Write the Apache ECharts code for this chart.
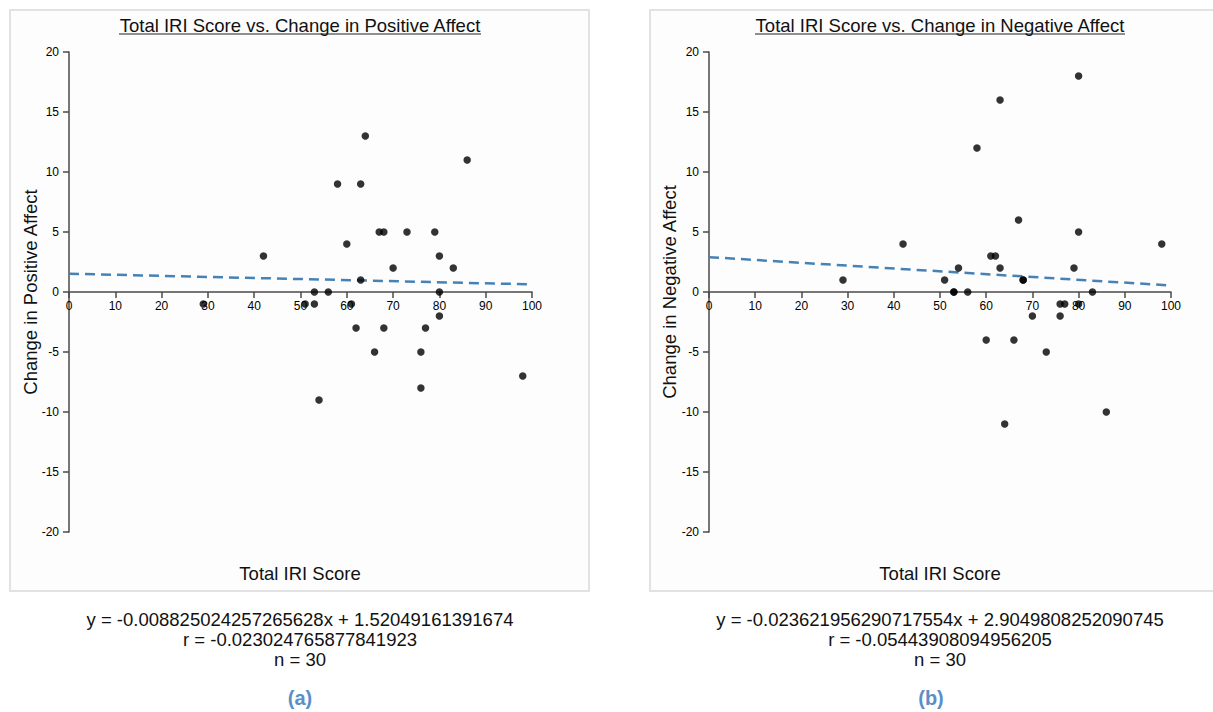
<!DOCTYPE html>
<html>
<head>
<meta charset="utf-8">
<script src="https://cdn.jsdelivr.net/npm/echarts@6/dist/echarts.min.js"></script>
<style>
  html, body { margin: 0; padding: 0; background: #ffffff; }
  #chart { width: 1213px; height: 712px; }
</style>
</head>
<body>
<div id="chart"></div>
<script>
// ---- data ----
const iriPositive = [64, 86, 58, 63, 67, 68, 73, 79, 60, 42, 80, 70, 83, 63, 53, 56, 80, 29, 51, 53, 61, 80, 62, 68, 77, 66, 76, 98, 76, 54];
const changePositive = [13, 11, 9, 9, 5, 5, 5, 5, 4, 3, 3, 2, 2, 1, 0, 0, 0, -1, -1, -1, -1, -2, -3, -3, -3, -5, -5, -7, -8, -9];

const iriNegative = [80, 63, 58, 67, 80, 42, 98, 61, 62, 54, 63, 79, 29, 51, 68, 68, 53, 53, 56, 83, 76, 77, 80, 70, 76, 60, 66, 73, 86, 64];
const changeNegative = [18, 16, 12, 6, 5, 4, 4, 3, 3, 2, 2, 2, 1, 1, 1, 1, 0, 0, 0, 0, -1, -1, -1, -2, -2, -4, -4, -5, -10, -11];

// regression line endpoints (x = 0 and x = 100)
const trendPositive = [[0, 1.5205], [100, 0.6380]];
const trendNegative = [[0, 2.9050], [100, 0.5428]];

const xTicks = [0, 10, 20, 30, 40, 50, 60, 70, 80, 90, 100];
const yTicks = [-20, -15, -10, -5, 0, 5, 10, 15, 20];

const titles = ['Total IRI Score vs. Change in Positive Affect', 'Total IRI Score vs. Change in Negative Affect'];
const yNames = ['Change in Positive Affect', 'Change in Negative Affect'];
const xName = 'Total IRI Score';
const equations = [
  ['y = -0.008825024257265628x + 1.52049161391674', 'r = -0.023024765877841923', 'n = 30'],
  ['y = -0.023621956290717554x + 2.9049808252090745', 'r = -0.05443908094956205', 'n = 30']
];
const captions = ['(a)', '(b)'];

// ---- chart ----
const FONT = '"Liberation Sans", Arial, Helvetica, sans-serif';
const AXIS_COLOR = '#4a4a4a';
const chart = echarts.init(document.getElementById('chart'), null, { renderer: 'svg' });

const pair = (xs, ys) => xs.map((x, i) => [x, ys[i]]);

function xAxisCfg(gridIndex) {
  return {
    type: 'value', gridIndex, position: 'bottom', offset: -240,
    min: xTicks[0], max: xTicks[xTicks.length - 1], interval: xTicks[1] - xTicks[0],
    axisLine: { show: true, onZero: false, lineStyle: { color: AXIS_COLOR, width: 1.5 } },
    axisTick: { show: true, length: 6, lineStyle: { color: AXIS_COLOR, width: 1.5 } },
    axisLabel: { color: '#000', fontSize: 12, fontFamily: FONT, margin: 8 },
    splitLine: { show: false }
  };
}
function yAxisCfg(gridIndex) {
  return {
    type: 'value', gridIndex,
    min: yTicks[0], max: yTicks[yTicks.length - 1], interval: yTicks[1] - yTicks[0],
    axisLine: { show: true, onZero: false, lineStyle: { color: AXIS_COLOR, width: 1.5 } },
    axisTick: { show: true, length: 6, lineStyle: { color: AXIS_COLOR, width: 1.5 } },
    axisLabel: { color: '#000', fontSize: 12, fontFamily: FONT, margin: 10 },
    splitLine: { show: false }
  };
}

const panelCenters = [300, 940];
const graphics = [];
// panel boxes
graphics.push({ type: 'rect', z: -10, shape: { x: 10, y: 10, width: 579, height: 581 },
  style: { fill: '#fdfdfd', stroke: '#e2e2e2', lineWidth: 2 } });
graphics.push({ type: 'rect', z: -10, shape: { x: 650, y: 10, width: 600, height: 581 },
  style: { fill: '#fdfdfd', stroke: '#e2e2e2', lineWidth: 2 } });

const underline = [[119, 481], [755, 1125]];
const yNameX = [30, 669];
const F = '18.5px ' + FONT;
for (let p = 0; p < 2; p++) {
  const cx = panelCenters[p];
  graphics.push({ type: 'text', x: cx, y: 25, z: 10,
    style: { text: titles[p], fill: '#111', font: F, textAlign: 'center', textVerticalAlign: 'middle' } });
  graphics.push({ type: 'line', z: 10, shape: { x1: underline[p][0], y1: 34, x2: underline[p][1], y2: 34 },
    style: { stroke: '#222', lineWidth: 1.2 } });
  graphics.push({ type: 'text', x: yNameX[p], y: 292, rotation: Math.PI / 2, z: 10,
    style: { text: yNames[p], fill: '#111', font: F, textAlign: 'center', textVerticalAlign: 'middle' } });
  graphics.push({ type: 'text', x: cx, y: 573, z: 10,
    style: { text: xName, fill: '#111', font: F, textAlign: 'center', textVerticalAlign: 'middle' } });
  equations[p].forEach((line, i) => {
    graphics.push({ type: 'text', x: cx, y: 619 + i * 20, z: 10,
      style: { text: line, fill: '#111', font: F, textAlign: 'center', textVerticalAlign: 'middle' } });
  });
  graphics.push({ type: 'text', x: p === 0 ? 300 : 931, y: 698, z: 10,
    style: { text: captions[p], fill: '#5b8ec8', font: 'bold 20px ' + FONT, textAlign: 'center', textVerticalAlign: 'middle' } });
}

const trendStyle = { color: '#4682b4', width: 2.5, type: [10, 6] };

chart.setOption({
  animation: false,
  backgroundColor: '#ffffff',
  grid: [
    { left: 69, top: 52, width: 463, height: 480 },
    { left: 709, top: 52, width: 462, height: 480 }
  ],
  xAxis: [xAxisCfg(0), xAxisCfg(1)],
  yAxis: [yAxisCfg(0), yAxisCfg(1)],
  graphic: graphics,
  series: [
    { type: 'line', xAxisIndex: 0, yAxisIndex: 0, data: trendPositive, symbol: 'none', lineStyle: trendStyle, z: 3, silent: true },
    { type: 'scatter', xAxisIndex: 0, yAxisIndex: 0, data: pair(iriPositive, changePositive), symbolSize: 7.5, itemStyle: { color: '#000' }, z: 4 },
    { type: 'line', xAxisIndex: 1, yAxisIndex: 1, data: trendNegative, symbol: 'none', lineStyle: trendStyle, z: 3, silent: true },
    { type: 'scatter', xAxisIndex: 1, yAxisIndex: 1, data: pair(iriNegative, changeNegative), symbolSize: 7.5, itemStyle: { color: '#000' }, z: 4 }
  ]
});
</script>
</body>
</html>
